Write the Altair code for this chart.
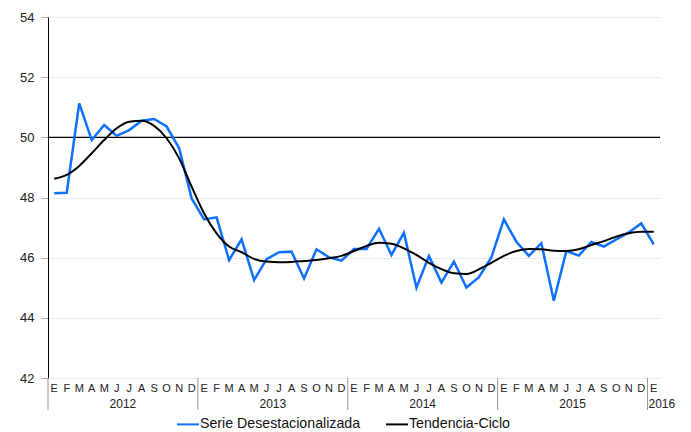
import altair as alt
import pandas as pd

month_letters = ["E", "F", "M", "A", "M", "J", "J", "A", "S", "O", "N", "D"]
years = ["2012", "2013", "2014", "2015", "2016"]

serie = [48.14, 48.16, 51.13, 49.91, 50.41, 50.05, 50.24, 50.55, 50.61, 50.36, 49.64, 47.97,
         47.27, 47.34, 45.92, 46.61, 45.26, 45.95, 46.18, 46.20, 45.31, 46.28, 46.01, 45.90,
         46.29, 46.29, 46.96, 46.09, 46.83, 45.00, 46.06, 45.17, 45.87, 45.01, 45.35, 46.01,
         47.27, 46.53, 46.06, 46.48, 44.57, 46.22, 46.07, 46.52, 46.37, 46.61, 46.84, 47.14,
         46.44]
tendencia = [48.62, 48.75, 49.05, 49.47, 49.91, 50.30, 50.52, 50.55, 50.38, 49.97, 49.30, 48.36,
             47.47, 46.81, 46.37, 46.18, 45.96, 45.87, 45.85, 45.86, 45.89, 45.92, 45.98, 46.06,
             46.22, 46.39, 46.50, 46.46, 46.31, 46.09, 45.83, 45.62, 45.48, 45.46, 45.61, 45.83,
             46.06, 46.22, 46.29, 46.28, 46.23, 46.22, 46.28, 46.42, 46.55, 46.70, 46.81, 46.86,
             46.86]
series_names = ["Serie Desestacionalizada", "Tendencia-Ciclo"]
y_ticks = [42, 44, 46, 48, 50, 52, 54]
ref_value = [50]

n = len(serie)
idx = list(range(n))
df_serie = pd.DataFrame({"i": idx, "v": serie, "s": series_names[0]})
df_tend = pd.DataFrame({"i": idx, "v": tendencia, "s": series_names[1]})
df_months = pd.DataFrame({"i": idx, "m": [month_letters[k % 12] for k in idx]})
year_pos = [5.5, 17.5, 29.5, 41.5]
df_years = pd.DataFrame({"i": year_pos, "y": years[:4]})
df_last_year = pd.DataFrame({"i": [n - 1.5], "y": [years[4]]})
df_sep = pd.DataFrame({"i": [-0.5 + 12 * k for k in range(5)]})
df_ref = pd.DataFrame({"v": ref_value})

W, H = 612, 361
FONT = "Liberation Sans"
xs = alt.Scale(domain=[-0.5, n - 0.5], nice=False, zero=False)
ys = alt.Scale(domain=[42, 54], nice=False, zero=False)
color = alt.Color(
    "s:N",
    scale=alt.Scale(domain=series_names, range=["#0F6FFF", "#000000"]),
    legend=alt.Legend(
        title=None, orient="none", direction="horizontal", legendX=128, legendY=395,
        symbolType="stroke", symbolSize=484, symbolStrokeWidth=2,
        labelFont=FONT, labelFontSize=14.2, labelColor="#111", labelLimit=400,
        columnPadding=21, labelOffset=0, padding=0,
    ),
)

yaxis = alt.Axis(values=y_ticks, grid=True, gridColor="#EBEBEB", gridWidth=1,
                 domainColor="#000", domainWidth=1, tickColor="#AAAAAA", tickSize=7,
                 labelFont=FONT, labelFontSize=13, labelColor="#222", labelPadding=7,
                 title=None)

base_x = alt.X("i:Q", scale=xs, axis=None)

grid = alt.Chart(df_serie).mark_line(opacity=0).encode(
    x=base_x, y=alt.Y("v:Q", scale=ys, axis=yaxis))

ref = alt.Chart(df_ref).mark_rule(color="#000", strokeWidth=1.2).encode(
    y=alt.Y("v:Q", scale=ys))

blue = alt.Chart(df_serie).mark_line(strokeWidth=2.5).encode(
    x=base_x, y=alt.Y("v:Q", scale=ys), color=color)

black = alt.Chart(df_tend).mark_line(strokeWidth=2, interpolate="monotone").encode(
    x=base_x, y=alt.Y("v:Q", scale=ys), color=color)

months = alt.Chart(df_months).mark_text(baseline="top", font=FONT, fontSize=11,
                                        color="#222").encode(
    x=base_x, y=alt.value(H + 5), text="m:N")

yrs = alt.Chart(df_years).mark_text(baseline="top", font=FONT, fontSize=12,
                                    color="#222").encode(
    x=base_x, y=alt.value(H + 21), text="y:N")

last_yr = alt.Chart(df_last_year).mark_text(baseline="top", align="left", dx=1,
                                            font=FONT, fontSize=12, color="#222").encode(
    x=base_x, y=alt.value(H + 21), text="y:N")

seps = alt.Chart(df_sep).mark_rule(color="#999", strokeWidth=1).encode(
    x=base_x, y=alt.value(H), y2=alt.value(H + 32))

chart = alt.layer(grid, ref, blue, black, months, yrs, last_yr, seps).properties(
    width=W, height=H,
    padding={"left": 40, "top": 9, "right": 23, "bottom": 54},
    autosize=alt.AutoSizeParams(type="none"),
).configure_view(stroke=None)

chart.save("out.html", embed_options={"renderer": "svg", "actions": False})
